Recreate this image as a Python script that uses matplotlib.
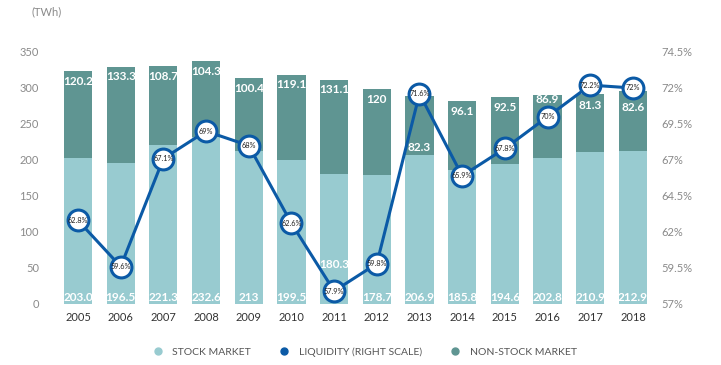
import numpy as np
import matplotlib.pyplot as plt
from matplotlib.lines import Line2D

plt.rcParams['font.family'] = ['Lato', 'DejaVu Sans']

years = ['2005', '2006', '2007', '2008', '2009', '2010', '2011',
         '2012', '2013', '2014', '2015', '2016', '2017', '2018']
stock = [203.0, 196.5, 221.3, 232.6, 213, 199.5, 180.3,
         178.7, 206.9, 185.8, 194.6, 202.8, 210.9, 212.9]
stock_labels = ['203.0', '196.5', '221.3', '232.6', '213', '199.5', '180.3',
                '178.7', '206.9', '185.8', '194.6', '202.8', '210.9', '212.9']
non_stock = [120.2, 133.3, 108.7, 104.3, 100.4, 119.1, 131.1,
             120, 82.3, 96.1, 92.5, 86.9, 81.3, 82.6]
non_stock_labels = ['120.2', '133.3', '108.7', '104.3', '100.4', '119.1', '131.1',
                    '120', '82.3', '96.1', '92.5', '86.9', '81.3', '82.6']
liquidity = [62.8, 59.6, 67.1, 69, 68, 62.6, 57.9,
             59.8, 71.6, 65.9, 67.8, 70, 72.2, 72]
liquidity_labels = ['62.8%', '59.6%', '67.1%', '69%', '68%', '62.6%', '57.9%',
                    '59.8%', '71.6%', '65.9%', '67.8%', '70%', '72.2%', '72%']
right_ticks = [57, 59.5, 62, 64.5, 67, 69.5, 72, 74.5]

c_stock = '#98cbd0'
c_non = '#5f9592'
c_liq = '#0b5aa6'
c_tick = '#8a8a8a'

fig = plt.figure(figsize=(7.21, 3.65), dpi=100)
ax = fig.add_axes([50 / 721, 61 / 365, 600 / 721, 252 / 365])
x = np.arange(len(years))
w = 0.66

ax.bar(x, stock, w, color=c_stock, zorder=1)
ax.bar(x, non_stock, w, bottom=stock, color=c_non, zorder=1)

# non-stock labels sit near the bar top, moved where the marker is in the way
label_drop = [14, 14, 14, 14, 14, 14, 14, 14, 0, 14, 14, 6, 16, 22]
for i in x:
    if i == 6:
        # the 2011 marker sits on the bar foot, so its label goes just above it
        ax.text(i, 55, stock_labels[i], ha='center', va='center', color='white',
                fontsize=8.5, fontweight='bold', zorder=2)
    else:
        ax.text(i, 1, stock_labels[i], ha='center', va='bottom', color='white',
                fontsize=8.5, fontweight='bold', zorder=2)
    top = stock[i] + non_stock[i]
    ly = top - label_drop[i] if i != 8 else stock[i] + 10
    ax.text(i, ly, non_stock_labels[i], ha='center', va='center', color='white',
            fontsize=8.5, fontweight='bold', zorder=2)

ax.set_xlim(-0.656, 13.4)
ax.set_ylim(0, 350)
ax.set_yticks(range(0, 351, 50))
ax.set_xticks(x)
ax.set_xticklabels(years)
ax.tick_params(axis='y', length=0, pad=8, labelsize=8, labelcolor=c_tick)
ax.tick_params(axis='x', length=0, pad=6, labelsize=8, labelcolor='#333333')
for s in ax.spines.values():
    s.set_visible(False)

ax2 = ax.twinx()
ax2.plot(x, liquidity, color=c_liq, lw=2.2, marker='o', markersize=15,
         markerfacecolor='white', markeredgecolor=c_liq, markeredgewidth=2.2, zorder=3)
for i in x:
    ax2.text(i, liquidity[i], liquidity_labels[i], ha='center', va='center',
             fontsize=5.3, color='#222222', zorder=4)
ax2.set_ylim(57, 74.5)
ax2.set_yticks(right_ticks)
ax2.set_yticklabels([f'{t:g}%' for t in right_ticks])
ax2.tick_params(axis='y', length=0, pad=8, labelsize=8, labelcolor=c_tick)
for s in ax2.spines.values():
    s.set_visible(False)

fig.text(31 / 721, 1 - 12 / 365, '(TWh)', fontsize=8, color=c_tick, va='center')

handles = [
    Line2D([], [], ls='none', marker='o', ms=5, color=c_stock),
    Line2D([], [], ls='none', marker='o', ms=5, color=c_liq),
    Line2D([], [], ls='none', marker='o', ms=5, color=c_non),
]
fig.legend(handles, ['STOCK MARKET', 'LIQUIDITY (RIGHT SCALE)', 'NON-STOCK MARKET'],
           loc='center', bbox_to_anchor=(362 / 721, 1 - 352 / 365), ncol=3,
           frameon=False, fontsize=7.5, labelcolor='#555555', handletextpad=0.4,
           columnspacing=2.2)

fig.savefig('out.png', dpi=100)
